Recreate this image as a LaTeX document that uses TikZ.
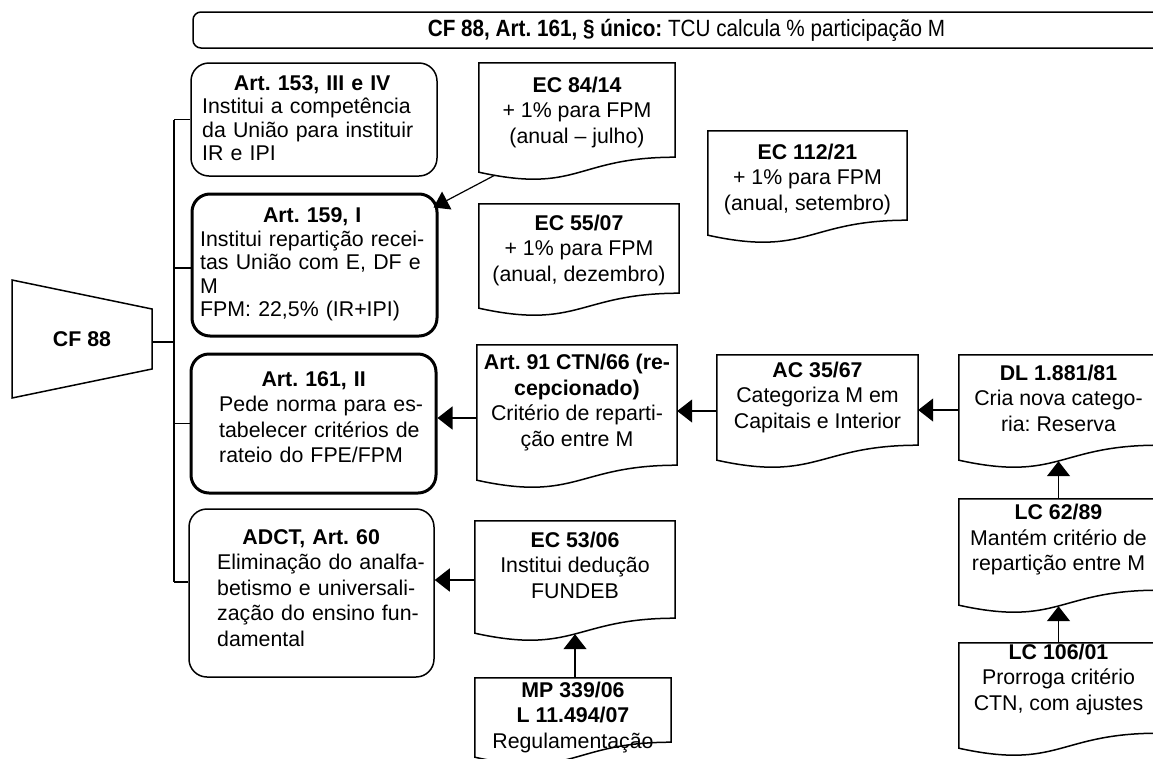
\documentclass[tikz,border=0pt]{standalone}
\usepackage{fontspec}
\setmainfont{Liberation Sans}
\newfontfamily\narrowsans[FakeStretch=0.88]{Liberation Sans}
\usetikzlibrary{arrows.meta,calc}
\newcommand\docshape[1]{%
  \draw[docline] (#1.north west) -- (#1.north east) -- (#1.south east)
    .. controls ($(#1.south east)+(-100,0)$) and ($(#1.south west)+(100,37)$) ..
    ($(#1.south west)+(0,15)$) -- cycle;}
\begin{document}
\frenchspacing
\begin{tikzpicture}[x=1pt,y=-1pt,
  every node/.style={font=\fontsize{21.33}{25.5}\selectfont\frenchspacing},
  tight/.style={font=\fontsize{21.33}{23.4}\selectfont\frenchspacing},
  rbox/.style={draw, line width=1.5pt, rounded corners=18pt, inner sep=0pt},
  thickbox/.style={rbox, line width=3pt},
  boxtext/.style={inner sep=0pt, align=left, anchor=west},
  docbox/.style={inner sep=0pt, minimum width=200pt},
  doctext/.style={inner sep=0pt, align=center},
  docline/.style={line width=1.5pt, line join=miter},
  conn/.style={line width=1.5pt},
  arr/.style={line width=1.5pt, -{Triangle[length=15pt,width=23pt]}}]
\useasboundingbox (0,0) rectangle (1153,758);
\clip (0,0) rectangle (1153,758);

% top bar
\node[draw, line width=1.5pt, rounded corners=8pt, minimum width=987pt, minimum height=36pt, inner sep=0pt] (top) at (686.5,30)
  {\narrowsans\fontsize{23.5}{26}\selectfont\textbf{CF 88, Art. 161, § único:} TCU calcula \% participação M};

% CF 88 trapezoid
\draw[line width=1.5pt] (12,280) -- (152,309) -- (152,369) -- (12,398) -- cycle;
\node[minimum width=140pt, minimum height=60pt, inner sep=0pt] (cf88) at (82,339) {\textbf{CF 88}};

% rounded boxes
\node[rbox, minimum width=246pt, minimum height=113pt] (art153) at (314,119.5) {};
\node[thickbox, minimum width=245pt, minimum height=142pt] (art159) at (314.5,265) {};
\node[thickbox, minimum width=245pt, minimum height=139pt] (art161) at (313.5,423.5) {};
\node[rbox, minimum width=245pt, minimum height=168pt] (adct) at (311.5,593) {};

\node[boxtext, tight, text width=222pt] (art153-t) at (202,118)
  {\makebox[220pt]{\bfseries Art. 153, III e IV}\\Institui a competência\\da União para instituir\\IR e IPI};
\node[boxtext, tight, text width=226pt] (art159-t) at (200,264.5)
  {\makebox[224pt]{\bfseries Art. 159, I}\\Institui repartição recei-\\tas União com E, DF e\\M\\FPM: 22,5\% (IR+IPI)};
\node[boxtext, text width=206pt] (art161-t) at (219,417)
  {\makebox[189pt]{\bfseries Art. 161, II}\\Pede norma para es-\\tabelecer critérios de\\rateio do FPE/FPM};
\node[boxtext, text width=210pt] (adct-t) at (217,588)
  {\makebox[188pt]{\bfseries ADCT, Art. 60}\\Eliminação do analfa-\\betismo e universali-\\zação do ensino fun-\\damental};

% document shapes
\node[docbox, minimum width=196pt, minimum height=94pt] (ec84) at (577,110) {};
\node[docbox, minimum height=89pt] (ec55) at (579,248.5) {};
\node[docbox, minimum width=199pt, minimum height=89pt] (ec112) at (807.5,175.5) {};
\node[docbox, minimum height=120pt] (art91) at (577,405) {};
\node[docbox, minimum width=201pt, minimum height=90pt] (ac) at (817.5,400) {};
\node[docbox, minimum width=199pt, minimum height=90pt] (dl) at (1058.5,400) {};
\node[docbox, minimum height=97pt] (ec53) at (575,569.5) {};
\node[docbox, minimum width=196pt, minimum height=64pt] (mp) at (573,710) {};
\node[docbox, minimum width=199pt, minimum height=91pt] (lc62) at (1058.5,544.5) {};
\node[docbox, minimum width=199pt, minimum height=90pt] (lc106) at (1058.5,688) {};
\foreach \d in {ec84,ec55,ec112,art91,ac,dl,ec53,mp,lc62,lc106} {\docshape{\d}}

\node[doctext] (ec84-t) at (577,112) {\textbf{EC 84/14}\\+ 1\% para FPM\\(anual – julho)};
\node[doctext] (ec55-t) at (579,250) {\textbf{EC 55/07}\\+ 1\% para FPM\\(anual, dezembro)};
\node[doctext] (ec112-t) at (807.5,179) {\textbf{EC 112/21}\\+ 1\% para FPM\\(anual, setembro)};
\node[doctext] (art91-t) at (577,402.5) {\textbf{Art. 91 CTN/66 (re-}\\\textbf{cepcionado)}\\Critério de reparti-\\ção entre M};
\node[doctext] (ac-t) at (817.5,397) {\textbf{AC 35/67}\\Categoriza M em\\Capitais e Interior};
\node[doctext] (dl-t) at (1058.5,398) {\textbf{DL 1.881/81}\\Cria nova catego-\\ria: Reserva};
\node[doctext] (ec53-t) at (575,565) {\textbf{EC 53/06}\\Institui dedução\\FUNDEB};
\node[doctext] (mp-t) at (573,717.5) {\textbf{MP 339/06}\\\textbf{L 11.494/07}\\Regulamentação};
\node[doctext] (lc62-t) at (1058.5,540) {\textbf{LC 62/89}\\Mantém critério de\\repartição entre M};
\node[doctext] (lc106-t) at (1058.5,679) {\textbf{LC 106/01}\\Prorroga critério\\CTN, com ajustes};

% attachment points
\coordinate (trunk) at (174,0);
\coordinate (cf88-o) at ([yshift=-3pt]cf88.east);
\coordinate (art159-i) at ([yshift=-3pt]art159.west);
\coordinate (adct-i) at ([yshift=11pt]adct.west);
\coordinate (art91-o) at ([yshift=-13pt]art91.west);
\coordinate (ac-o) at ([yshift=-11pt]ac.west);
\coordinate (dl-o) at ([yshift=-10pt]dl.west);
\coordinate (ec53-o) at ([yshift=-10.5pt]ec53.west);
\coordinate (ec53-b) at ([yshift=-16pt]ec53.south);
\coordinate (dl-b) at ([yshift=-16pt]dl.south);
\coordinate (lc62-b) at ([yshift=-16pt]lc62.south);
\coordinate (ec84-o) at ($(ec84.south west)+(16,18)$);
\coordinate (art159-c) at ($(art159.north east)+(-5,15)$);

% trunk and branches
\draw[conn] (trunk |- art153.west) -- (trunk |- adct-i);
\draw[conn] (cf88-o) -- (trunk |- cf88-o);
\draw[conn] (trunk |- art153.west) -- (art153.west);
\draw[conn] (trunk |- art159-i) -- (art159-i);
\draw[conn] (trunk |- art161.west) -- (art161.west);
\draw[conn] (trunk |- adct-i) -- (adct-i);

% arrows
\draw[arr] (art91-o) -- (art91-o -| art161.east);
\draw[arr] (ac-o) -- (ac-o -| art91.east);
\draw[arr] (dl-o) -- (dl-o -| ac.east);
\draw[arr] (ec53-o) -- (ec53-o -| adct.east);
\draw[arr] (mp.north -| ec53-b) -- (ec53-b);
\draw[arr] (lc62.north) -- (dl-b);
\draw[arr] (lc106.north) -- (lc62-b);
\draw[line width=1.2pt, -{Triangle[length=15pt,width=20pt]}] (ec84-o) -- (art159-c);
\end{tikzpicture}
\end{document}
